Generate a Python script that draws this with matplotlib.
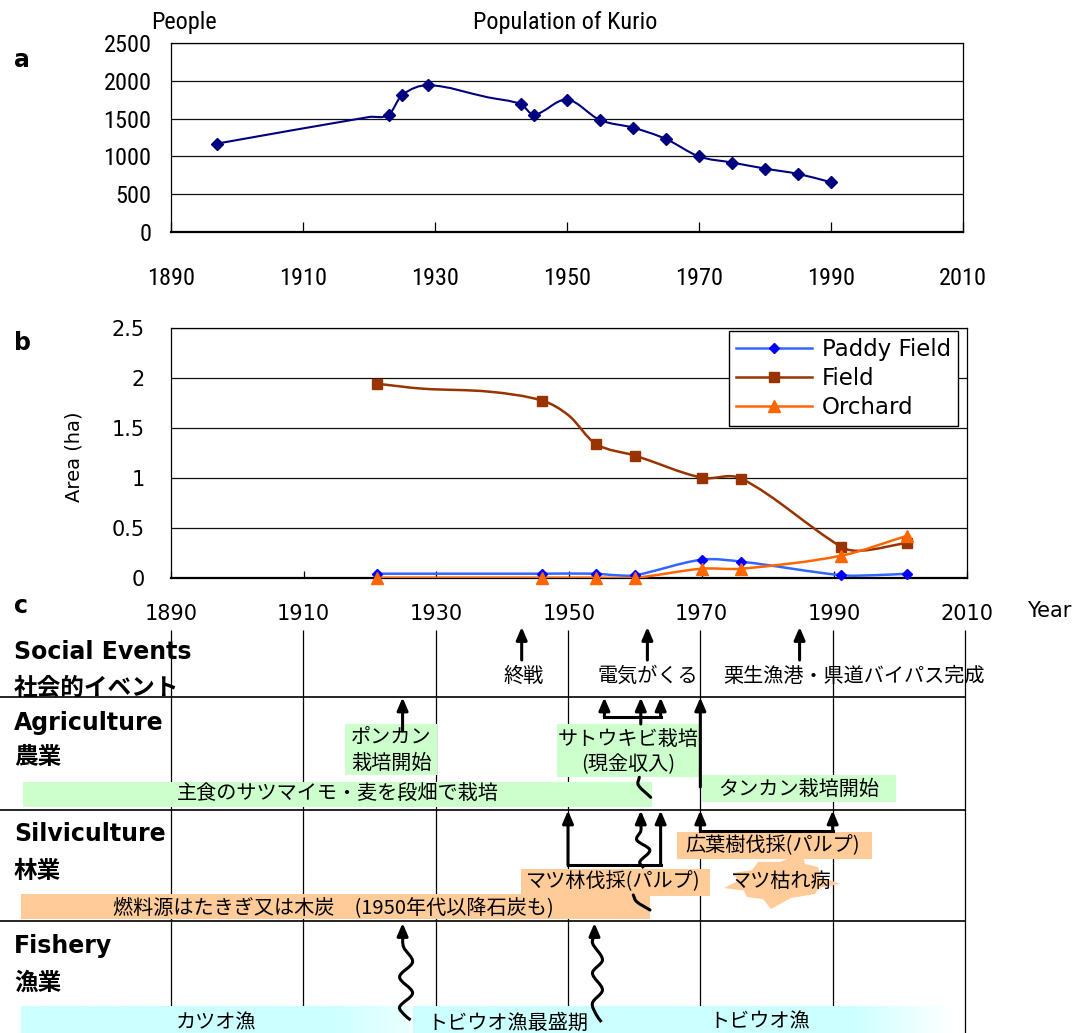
import numpy as np
import matplotlib
matplotlib.use("Agg")
import matplotlib.pyplot as plt
from matplotlib import font_manager
from matplotlib.font_manager import FontProperties
from matplotlib.lines import Line2D
from matplotlib.path import Path
from matplotlib.patches import PathPatch, Rectangle, Polygon

plt.rcParams["font.family"] = ["DejaVu Sans", "Noto Sans CJK JP"]
JP = ["Noto Sans CJK JP", "DejaVu Sans"]


def narrow_font():
    """Pick a narrow sans file for panel a, falling back to plain DejaVu."""
    found = {}
    for f in font_manager.fontManager.ttflist:
        st = str(f.stretch)
        if ("Narrow" in f.name or "Condensed" in f.name or "condensed" in st) \
                and f.style == "normal" and f.weight in (400, "normal", "regular", "book"):
            found.setdefault(f.name, f.fname)
    for name, size in [("Liberation Sans Narrow", 18), ("Roboto Condensed", 17.5),
                       ("Noto Sans Condensed", 17.5), ("Open Sans Condensed", 17),
                       ("DejaVu Sans", 16)]:
        if name in found:
            return found[name], size
    if found:
        return next(iter(found.values())), 17
    return None, 15


NARROW_FILE, NARROW_SIZE = narrow_font()


def nfont(size=None):
    size = size or NARROW_SIZE
    if NARROW_FILE:
        return FontProperties(fname=NARROW_FILE, size=size)
    return FontProperties(family="DejaVu Sans", size=size)


# --- a: population of Kurio (flag 0 = bend of the line without a survey marker)
pop_year = [1897, 1920, 1923, 1925, 1929, 1938, 1943, 1945, 1950, 1955,
            1960, 1965, 1970, 1975, 1980, 1985, 1990]
pop_count = [1170, 1520, 1550, 1810, 1940, 1780, 1690, 1550, 1750, 1480,
             1380, 1230, 1000, 920, 840, 770, 660]
pop_marked = [1, 0, 1, 1, 1, 0, 1, 1, 1, 1, 1, 1, 1, 1, 1, 1, 1]

# --- b: cultivated area (ha)
paddy_year = [1921, 1946, 1954, 1957, 1960, 1970, 1976, 1991, 1996, 2001]
paddy_area = [0.04, 0.04, 0.04, 0.025, 0.025, 0.18, 0.16, 0.025, 0.025, 0.04]
paddy_marked = [1, 1, 1, 0, 1, 1, 1, 1, 0, 1]

field_year = [1921, 1928, 1938, 1946, 1950, 1954, 1960, 1970, 1976, 1991, 1994, 2001]
field_area = [1.94, 1.89, 1.86, 1.77, 1.62, 1.34, 1.22, 1.00, 0.99, 0.31, 0.27, 0.35]
field_marked = [1, 0, 0, 1, 0, 1, 1, 1, 1, 1, 0, 1]

orchard_year = [1921, 1946, 1954, 1960, 1970, 1976, 1991, 2001]
orchard_area = [0, 0, 0, 0, 0.09, 0.09, 0.22, 0.42]
orchard_marked = [1, 1, 1, 1, 1, 1, 1, 1]

# --- c: timeline of events
decades = list(range(1890, 2011, 20))
social_year = [1943, 1962, 1985]
social_text = ["終戦", "電気がくる", "栗生漁港・県道バイパス完成"]
ponkan_year = 1925
sugarcane_years = [1955.5, 1961, 1964]
tankan_year = 1970
pine_cut_years = [1950, 1964]
pine_wave_year = 1961
broadleaf_years = [1970, 1990]
flyingfish_years = [1925, 1954]

GREEN, ORANGE, CYAN = "#CCFFCC", "#FFCC99", "#CCFFFF"

W, H = 1088, 1033
fig = plt.figure(figsize=(W / 100, H / 100), dpi=100)


def add_axes_px(left, top, right, bottom):
    return fig.add_axes([left / W, 1 - bottom / H, (right - left) / W, (bottom - top) / H])


def fig_text(x, y, s, **kw):
    return fig.text(x / W, 1 - y / H, s, **kw)


def hermite_path(t, v, swap=False):
    """Smooth cubic curve through (t, v), like a spreadsheet 'smoothed line'."""
    t = np.asarray(t, float)
    v = np.asarray(v, float)
    n = len(t)
    m = np.empty(n)
    m[0] = (v[1] - v[0]) / (t[1] - t[0])
    m[-1] = (v[-1] - v[-2]) / (t[-1] - t[-2])
    m[1:-1] = (v[2:] - v[:-2]) / (t[2:] - t[:-2])
    verts = [(t[0], v[0])]
    for i in range(n - 1):
        h = t[i + 1] - t[i]
        verts += [(t[i] + h / 3, v[i] + m[i] * h / 3),
                  (t[i + 1] - h / 3, v[i + 1] - m[i + 1] * h / 3),
                  (t[i + 1], v[i + 1])]
    verts = np.array(verts)
    if swap:
        verts = verts[:, ::-1]
    return Path(verts, [Path.MOVETO] + [Path.CURVE4] * 3 * (n - 1))


def smooth_series(ax, xs, ys, marked, color, lw, marker, mcolor, ms):
    ax.add_patch(PathPatch(hermite_path(xs, ys), fill=False, edgecolor=color, lw=lw, zorder=3))
    mx = [x for x, k in zip(xs, marked) if k]
    my = [y for y, k in zip(ys, marked) if k]
    ax.plot(mx, my, ls="none", marker=marker, ms=ms, mfc=mcolor, mec=mcolor, zorder=4, clip_on=False)


def style_box(ax):
    for s in ax.spines.values():
        s.set_color("k")
        s.set_linewidth(0.9)
    ax.spines["bottom"].set_linewidth(1.6)


# ---------------- panel a ----------------
ax_a = add_axes_px(171, 42.7, 963, 232.3)
ax_a.set_xlim(1890, 2010)
ax_a.set_ylim(0, 2500)
ax_a.set_xticks(decades)
ax_a.set_yticks(range(0, 2501, 500))
ax_a.yaxis.grid(True, color="#111111", lw=0.9)
ax_a.set_axisbelow(True)
style_box(ax_a)
ax_a.tick_params(axis="x", direction="in", length=7.5, width=0.9, pad=25)
ax_a.tick_params(axis="y", length=0, pad=14)
for lab in ax_a.get_xticklabels() + ax_a.get_yticklabels():
    lab.set_fontproperties(nfont())
smooth_series(ax_a, pop_year, pop_count, pop_marked, "#000080", 1.5, "D", "#000080", 5.8)

fig_text(151, 22.7, "People", fontproperties=nfont(), va="center", ha="left")
fig_text(565, 22.7, "Population of Kurio", fontproperties=nfont(), va="center", ha="center")
fig_text(14, 60, "a", fontsize=17, fontweight="bold", va="center")

# ---------------- panel b ----------------
ax_b = add_axes_px(171, 327.7, 967, 577.7)
ax_b.set_xlim(1890, 2010)
ax_b.set_ylim(0, 2.5)
ax_b.set_xticks(decades)
ax_b.set_yticks([0, 0.5, 1, 1.5, 2, 2.5])
ax_b.set_yticklabels(["0", "0.5", "1", "1.5", "2", "2.5"])
ax_b.yaxis.grid(True, color="#111111", lw=0.9)
ax_b.set_axisbelow(True)
style_box(ax_b)
ax_b.tick_params(axis="x", direction="in", length=5, width=0.9, pad=19, labelsize=15)
ax_b.tick_params(axis="y", length=0, pad=19, labelsize=15)

smooth_series(ax_b, paddy_year, paddy_area, paddy_marked, "#3366FF", 1.8, "D", "#0000FF", 5.5)
smooth_series(ax_b, field_year, field_area, field_marked, "#993300", 1.8, "s", "#993300", 7.5)
smooth_series(ax_b, orchard_year, orchard_area, orchard_marked, "#FF6600", 1.8, "^", "#FF6600", 8.5)

handles = [
    Line2D([], [], color="#3366FF", lw=1.8, marker="D", ms=5.5, mfc="#0000FF", mec="#0000FF"),
    Line2D([], [], color="#993300", lw=1.8, marker="s", ms=7.5, mfc="#993300", mec="#993300"),
    Line2D([], [], color="#FF6600", lw=1.8, marker="^", ms=8.5, mfc="#FF6600", mec="#FF6600"),
]
leg = ax_b.legend(handles, ["Paddy Field", "Field", "Orchard"], loc="upper right",
                  bbox_to_anchor=(958 / W, 1 - 330.7 / H), bbox_transform=fig.transFigure,
                  frameon=True, fancybox=False, edgecolor="k", framealpha=1,
                  borderaxespad=0, fontsize=16.5, handlelength=3.3, handletextpad=0.45,
                  labelspacing=0.28, borderpad=0.3)
leg.get_frame().set_linewidth(1.0)

fig_text(74, 456.7, "Area (ha)", rotation=90, fontsize=14, ha="center", va="center")
fig_text(1049, 611, "Year", fontsize=15, ha="center", va="center")
fig_text(14, 343, "b", fontsize=17, fontweight="bold", va="center")
fig_text(14, 606, "c", fontsize=17, fontweight="bold", va="center")

# ---------------- panel c: timeline ----------------
ax_c = add_axes_px(0, 600, W, H)
PPY = (965 - 171) / 120  # pixels per year on the time axis


def yr(px):
    return 1890 + (px - 171) / PPY


XLIM = (yr(0), yr(W))
ax_c.set_xlim(*XLIM)
ax_c.set_ylim(H, 600)
ax_c.axis("off")

ax_c.vlines(decades, 630, H, color="k", lw=0.9, zorder=1)
ax_c.hlines([697, 810, 921], XLIM[0], 2010, color="k", lw=1.2, zorder=1)


def box(x0, x1, y0, y1, color):
    ax_c.add_patch(Rectangle((yr(x0), y0), (x1 - x0) / PPY, y1 - y0,
                             facecolor=color, edgecolor="none", zorder=2))


def label(x_year, y, s, size=14.5):
    ax_c.text(x_year, y, s, ha="center", va="center", fontsize=size, family=JP, zorder=3)


def up_arrow(x_year, y_from, y_to):
    ax_c.annotate("", xy=(x_year, y_to), xytext=(x_year, y_from),
                  arrowprops=dict(arrowstyle="-|>,head_length=0.42,head_width=0.18", color="k",
                                  lw=2.2, shrinkA=0, shrinkB=0, mutation_scale=18),
                  zorder=5)


def bracket(x_left, x_right, y_bar, y_tip):
    ax_c.plot([x_left, x_right], [y_bar, y_bar], color="k", lw=2.2,
              solid_capstyle="projecting", zorder=5)
    up_arrow(x_left, y_bar, y_tip)
    up_arrow(x_right, y_bar, y_tip)


def wavy_arrow(x_year, y_tip, dx_px, ys):
    xs = x_year + np.asarray(dx_px, float) / PPY
    ax_c.add_patch(PathPatch(hermite_path(ys, xs, swap=True), fill=False,
                             ec="k", lw=2.2, zorder=4))
    up_arrow(x_year, y_tip + 13, y_tip)


def curl(xs_px, ys):
    xs = [yr(x) for x in xs_px]
    ax_c.add_patch(PathPatch(hermite_path(ys, xs, swap=True), fill=False,
                             ec="k", lw=2.2, zorder=4, capstyle="round"))


def gradient_bar(x0, x1, y0, y1, fade_from, end_white):
    xs = np.linspace(x0, x1, 300)
    t = np.clip((xs - fade_from) / (x1 - fade_from), 0, 1) * end_white
    base = np.array([0.8, 1.0, 1.0])
    rgb = base[None, :] * (1 - t[:, None]) + t[:, None]
    ax_c.imshow(rgb[None, :, :], extent=(yr(x0), yr(x1), y1, y0), aspect="auto",
                interpolation="bilinear", zorder=2)


# row headings
rows = [("Social Events", "社会的イベント", 651.7, 688.3),
        ("Agriculture", "農業", 722.7, 756.7),
        ("Silviculture", "林業", 834, 871.5),
        ("Fishery", "漁業", 946, 983)]
for en, jp, y_en, y_jp in rows:
    fig_text(14, y_en, en, fontsize=17, fontweight="bold", va="center")
    fig_text(14, y_jp, jp, fontsize=17, fontweight="bold", family=JP, va="center")

# social events
for year, text, x_txt in zip(social_year, social_text, [yr(524), yr(648), yr(853.7)]):
    up_arrow(year, 660, 627)
    label(x_txt, 676, text)

# agriculture
box(22.8, 651.8, 782, 807, GREEN)
label(yr(338), 794.5, "主食のサツマイモ・麦を段畑で栽培")
box(345.5, 436.7, 723.5, 775, GREEN)
label(yr(391), 737.5, "ポンカン")
label(yr(391), 763, "栽培開始")
up_arrow(ponkan_year, 731, 697.5)
box(557, 700, 724, 776.7, GREEN)
label(yr(628), 739.5, "サトウキビ栽培")
label(yr(628), 765, "(現金収入)")
bracket(sugarcane_years[0], sugarcane_years[2], 716.7, 697.5)
up_arrow(sugarcane_years[1], 724, 697.5)
curl([639.3, 638.3, 650.7], [777.3, 785, 797.3])
box(701.7, 895.8, 774.5, 802, GREEN)
label(yr(798.5), 789.5, "タンカン栽培開始")
up_arrow(tankan_year, 787, 697.5)

# silviculture
box(21, 650, 894.3, 919, ORANGE)
label(yr(333.5), 907.5, "燃料源はたきぎ又は木炭\u3000(1950年代以降石炭も)")
box(520.7, 710, 869.3, 895.7, ORANGE)
label(yr(613.3), 881.7, "マツ林伐採(パルプ)")
bracket(pine_cut_years[0], pine_cut_years[1], 865, 810.5)
wavy_arrow(pine_wave_year, 810.5, [0, 0, -4, 9, -1, 3], [822, 831, 840, 850, 862, 868])
curl([633.3, 636.7, 650], [895, 901.7, 910])
box(677.3, 871.7, 832.3, 859, ORANGE)
label(yr(773), 846, "広葉樹伐採(パルプ)")
bracket(broadleaf_years[0], broadleaf_years[1], 830.7, 810.5)

# "pine wilt" burst behind its label
star_outer = np.array([(724, 888), (733, 873), (758, 862), (802, 853), (818, 867),
                       (840, 884), (815, 894), (771, 909), (747, 897)], float)
centre = np.array([782, 882.0])
star = []
for i, p in enumerate(star_outer):
    q = star_outer[(i + 1) % len(star_outer)]
    star.append(p)
    star.append(centre + 0.82 * ((p + q) / 2 - centre))
star = np.array(star)
ax_c.add_patch(Polygon(np.column_stack([[yr(x) for x in star[:, 0]], star[:, 1]]),
                       closed=True, facecolor=ORANGE, edgecolor="none", zorder=2))
label(yr(781.7), 881.7, "マツ枯れ病")

# fishery
gradient_bar(21, 410, 1006.7, H, 330, 0.6)
gradient_bar(413, 955, 1006.7, H, 850, 1.0)
label(yr(215.8), 1023, "カツオ漁")
label(yr(508), 1023, "トビウオ漁最盛期")
label(yr(760), 1022, "トビウオ漁")
wavy_arrow(flyingfish_years[0], 923, [0, 1, 10, -3, 10, -3, 2, 8],
           [935, 947, 962, 977, 993, 1007, 1015, 1020])
wavy_arrow(flyingfish_years[1], 923, [0, -2, 8, -2, 8, -2, 2, 7],
           [935, 943, 960, 973, 990, 1003, 1015, 1022])

ax_c.set_xlim(*XLIM)
ax_c.set_ylim(H, 600)

fig.savefig("out.png", dpi=100)
